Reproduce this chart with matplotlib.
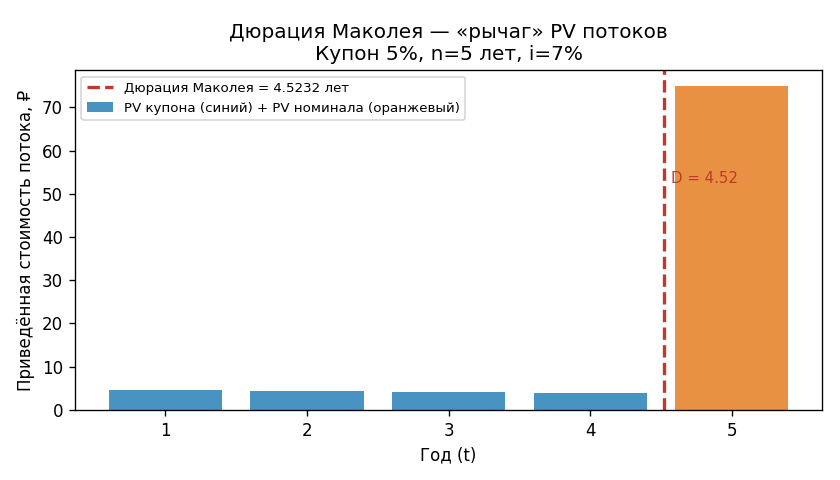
"""Macaulay duration chart: PV of bond cash flows by year."""

import matplotlib
matplotlib.use("Agg")
import matplotlib.pyplot as plt

years = [1, 2, 3, 4, 5]
pv_coupon = [4.67, 4.37, 4.08, 3.81, 0.0]
pv_face = [0.0, 0.0, 0.0, 0.0, 74.86]
duration = 4.5232

fig, ax = plt.subplots(figsize=(7, 4), dpi=120)

ax.bar(years, pv_coupon, width=0.8, color="#2980b9", alpha=0.85,
       label="PV купона (синий) + PV номинала (оранжевый)")
ax.bar(years, pv_face, width=0.8, bottom=pv_coupon, color="#e67e22", alpha=0.85)

ax.axvline(duration, color="#c0392b", linestyle="--", linewidth=2,
           label=f"Дюрация Маколея = {duration:.4f} лет")
ax.text(duration + 0.05, 53.5, f"D = {duration:.2f}", color="#c0392b",
        fontsize=9, va="center")

ax.set_xticks(years)
ax.set_xlabel("Год (t)")
ax.set_ylabel("Приведённая стоимость потока, ₽")
ax.set_title("Дюрация Маколея — «рычаг» PV потоков\nКупон 5%, n=5 лет, i=7%",
             fontsize=12)
ax.legend(loc="upper left", fontsize=8)
fig.subplots_adjust(left=0.089, right=0.979, top=0.854, bottom=0.146)
plt.savefig("out.png", dpi=120)
plt.close()
